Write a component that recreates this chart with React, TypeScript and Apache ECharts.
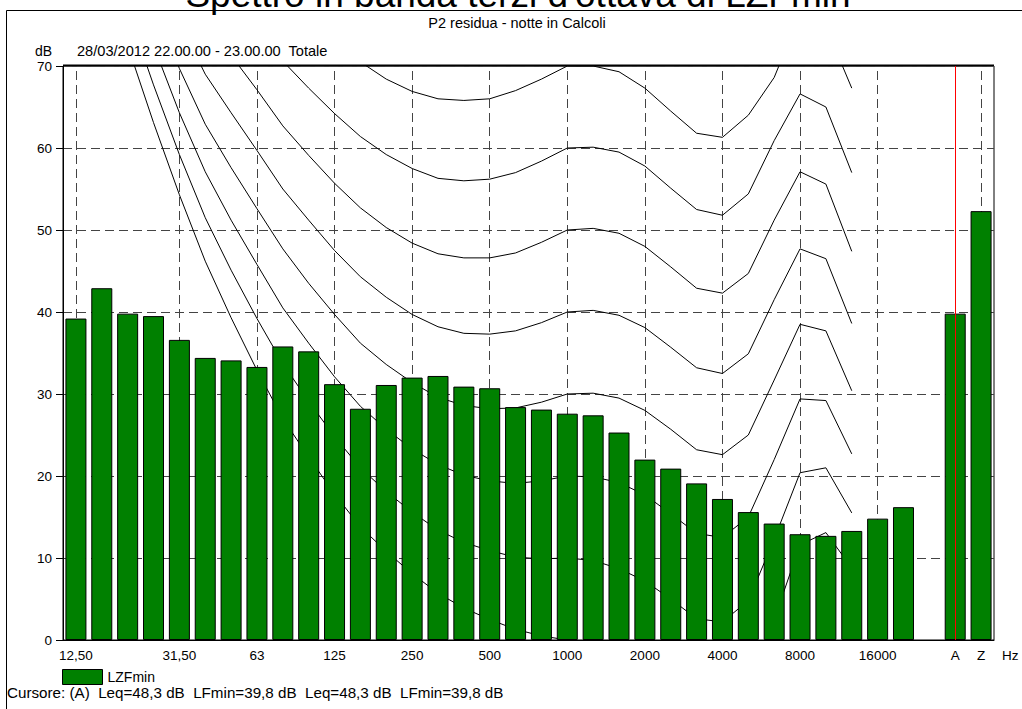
import React, { useEffect, useRef } from "react";
import * as echarts from "echarts";

// Third-octave bands, then an empty slot and the A / Z totals
const bands = [
  "12,50", "16", "20", "25", "31,50", "40", "50", "63", "80", "100", "125", "160",
  "200", "250", "315", "400", "500", "630", "800", "1000", "1250", "1600", "2000",
  "2500", "3150", "4000", "5000", "6300", "8000", "10000", "12500", "16000", "20000",
  "", "A", "Z",
];
const shownLabels = ["12,50", "31,50", "63", "125", "250", "500", "1000", "2000", "4000", "8000", "16000", "A", "Z"];
const gridBands = ["12,50", "31,50", "63", "125", "250", "500", "1000", "2000", "4000", "8000", "16000", "Z"];
const cursorBand = "A";

// LZFmin per band (dB)
const lzfMin = [
  39.2, 42.9, 39.8, 39.5, 36.6, 34.4, 34.1, 33.3, 35.8, 35.2, 31.2, 28.2,
  31.1, 32.0, 32.2, 30.9, 30.7, 28.4, 28.1, 27.6, 27.4, 25.3, 22.0,
  20.9, 19.1, 17.2, 15.6, 14.2, 12.9, 12.7, 13.3, 14.8, 16.2,
  null, 39.8, 52.3,
];

// Equal-loudness contours 0..70 phon, 20 Hz .. 12500 Hz (dB)
const contourStart = 2; // index of 20 Hz in bands
const phon0 = [72.5, 63.1, 54.3, 46.2, 39.3, 32.9, 27.0, 22.3, 17.8, 13.8, 10.8, 8.1, 5.7, 3.9, 2.5, 1.3, 0.5, 0, -0.7, -1.9, -3.5, -5.7, -8.1, -8.3, -5.4, 2.5, 11.6, 13.1, 8.8];
const phon10 = [76.8, 67.7, 59.2, 51.5, 45.1, 39.2, 33.7, 29.1, 24.8, 21.0, 18.1, 15.6, 13.4, 11.9, 10.9, 10.1, 9.9, 10, 9.7, 8.7, 7.2, 5.0, 2.6, 2.2, 4.8, 12.3, 20.4, 21.0, 15.5];
const phon20 = [81.3, 72.5, 64.3, 57.1, 51.2, 45.8, 40.5, 36.2, 32.1, 28.5, 25.7, 23.3, 21.4, 20.1, 19.4, 19.1, 19.4, 20, 19.9, 19.2, 17.7, 15.4, 13.0, 12.5, 15.0, 22.0, 29.4, 29.2, 22.7];
const phon30 = [86.0, 77.6, 69.7, 62.9, 57.6, 52.6, 47.7, 43.5, 39.7, 36.2, 33.6, 31.4, 29.6, 28.6, 28.2, 28.3, 29.0, 30, 30.1, 29.5, 28.0, 25.7, 23.2, 22.6, 25.0, 31.7, 38.5, 37.7, 30.4];
const phon40 = [91.0, 82.9, 75.4, 69.0, 64.3, 59.7, 55.0, 51.2, 47.5, 44.3, 41.8, 39.7, 38.2, 37.4, 37.3, 37.7, 38.7, 40, 40.2, 39.6, 38.1, 35.7, 33.2, 32.5, 34.9, 41.5, 47.7, 46.5, 38.6];
const phon50 = [96.2, 88.5, 81.3, 75.4, 71.3, 67.1, 62.7, 59.1, 55.7, 52.7, 50.3, 48.4, 47.1, 46.6, 46.6, 47.2, 48.5, 50, 50.2, 49.6, 48.0, 45.5, 42.9, 42.3, 44.7, 51.2, 57.1, 55.6, 47.4];
const phon60 = [101.7, 94.4, 87.6, 82.2, 78.7, 74.8, 70.6, 67.3, 64.2, 61.4, 59.2, 57.5, 56.3, 56.0, 56.2, 57.0, 58.4, 60, 60.1, 59.5, 57.8, 55.1, 52.5, 51.8, 54.4, 60.9, 66.6, 65.0, 57.0];
const phon70 = [107.6, 100.7, 94.3, 89.2, 86.4, 82.8, 78.9, 75.8, 73.0, 70.5, 68.4, 66.9, 66.0, 65.8, 66.0, 67.0, 68.4, 70, 70.0, 69.3, 67.3, 64.5, 61.8, 61.3, 64.0, 68.6, 76.3, 74.8, 67.3];
const contours = [phon0, phon10, phon20, phon30, phon40, phon50, phon60, phon70];

const FONT = "'Liberation Sans', Arial, sans-serif";
const GRID_COLOR = "#444";

function padContour(values: number[]) {
  return bands.map((_, i) => {
    const k = i - contourStart;
    return k >= 0 && k < values.length ? values[k] : null;
  });
}

export default function App() {
  const ref = useRef<HTMLDivElement>(null);

  useEffect(() => {
    if (!ref.current) return;
    const chart = echarts.init(ref.current, undefined, { renderer: "svg" });

    const contourSeries = contours.map((c, idx) => ({
      type: "line",
      data: padContour(c),
      symbol: "none",
      silent: true,
      clip: true,
      connectNulls: false,
      z: 2,
      lineStyle: { color: "#000", width: 1 },
      ...(idx === 0
        ? {
            markLine: {
              silent: true,
              symbol: "none",
              z: 1,
              label: { show: false },
              lineStyle: { type: [9, 5], color: GRID_COLOR, width: 1 },
              data: gridBands.map((b) => ({ xAxis: b })),
            },
          }
        : {}),
    }));

    chart.setOption({
      animation: false,
      backgroundColor: "#fff",
      textStyle: { fontFamily: FONT },
      grid: {
        left: 63,
        top: 66,
        right: 28,
        bottom: 69,
        show: true,
        borderColor: "#000",
        borderWidth: 1,
        backgroundColor: "transparent",
      },
      legend: {
        data: ["LZFmin"],
        left: 62,
        top: 669,
        padding: 0,
        itemWidth: 40,
        itemHeight: 15,
        icon: "rect",
        itemStyle: { borderColor: "#000", borderWidth: 1 },
        textStyle: { fontSize: 14, color: "#000", fontFamily: FONT },
      },
      xAxis: {
        type: "category",
        data: bands,
        boundaryGap: true,
        axisLine: { lineStyle: { color: "#000", width: 1 } },
        axisTick: {
          alignWithLabel: true,
          length: 4,
          interval: (_i: number, v: string) => shownLabels.includes(v),
          lineStyle: { color: "#000" },
        },
        axisLabel: {
          interval: (_i: number, v: string) => shownLabels.includes(v),
          color: "#000",
          fontSize: 13.5,
          margin: 8,
          fontFamily: FONT,
        },
        splitLine: { show: false },
      },
      yAxis: {
        type: "value",
        min: 0,
        max: 70,
        interval: 10,
        axisLine: { show: true, lineStyle: { color: "#000" } },
        axisTick: { show: true, length: 7, lineStyle: { color: "#000" } },
        axisLabel: { color: "#000", fontSize: 13.5, margin: 11, fontFamily: FONT },
        splitLine: { show: true, lineStyle: { type: [9, 5], color: GRID_COLOR, width: 1 } },
      },
      series: [
        ...contourSeries,
        {
          name: "LZFmin",
          type: "bar",
          data: lzfMin,
          barWidth: 21,
          z: 3,
          itemStyle: { color: "#008000", borderColor: "#000", borderWidth: 1 },
          markLine: {
            silent: true,
            symbol: "none",
            z: 10,
            label: { show: false },
            lineStyle: { type: "solid", color: "#ff0000", width: 1, opacity: 1 },
            data: [{ xAxis: cursorBand }],
          },
        },
      ],
      graphic: [
        {
          type: "rect",
          silent: true,
          shape: { x: 6.5, y: 10.5, width: 1040, height: 720 },
          style: { fill: "none", stroke: "#000", lineWidth: 1 },
        },
        {
          type: "line",
          silent: true,
          shape: { x1: 63, y1: 65.5, x2: 994, y2: 65.5 },
          style: { stroke: "#000", lineWidth: 2 },
        },
        {
          type: "text",
          silent: true,
          x: 518,
          y: -5.5,
          style: {
            text: "Spettro in banda terzi d'ottava di LZFmin",
            font: `37px ${FONT}`,
            fill: "#000",
            align: "center",
            verticalAlign: "middle",
          },
        },
        {
          type: "text",
          silent: true,
          x: 517,
          y: 23,
          style: {
            text: "P2 residua - notte in Calcoli",
            font: `14.5px ${FONT}`,
            fill: "#000",
            align: "center",
            verticalAlign: "middle",
          },
        },
        {
          type: "text",
          silent: true,
          x: 35,
          y: 50.5,
          style: { text: "dB", font: `14px ${FONT}`, fill: "#000", align: "left", verticalAlign: "middle" },
        },
        {
          type: "text",
          silent: true,
          x: 77,
          y: 50.5,
          style: {
            text: "28/03/2012 22.00.00 - 23.00.00  Totale",
            font: `14.6px ${FONT}`,
            fill: "#000",
            align: "left",
            verticalAlign: "middle",
          },
        },
        {
          type: "text",
          silent: true,
          x: 1002,
          y: 655,
          style: { text: "Hz", font: `13.5px ${FONT}`, fill: "#000", align: "left", verticalAlign: "middle" },
        },
        {
          type: "text",
          silent: true,
          x: 7,
          y: 692.5,
          style: {
            text: "Cursore: (A)  Leq=48,3 dB  LFmin=39,8 dB  Leq=48,3 dB  LFmin=39,8 dB",
            font: `15.2px ${FONT}`,
            fill: "#000",
            align: "left",
            verticalAlign: "middle",
          },
        },
      ],
    });

    return () => chart.dispose();
  }, []);

  return (
    <div
      ref={ref}
      style={{ position: "fixed", left: 0, top: 0, width: 1022, height: 709, background: "#fff" }}
    />
  );
}
